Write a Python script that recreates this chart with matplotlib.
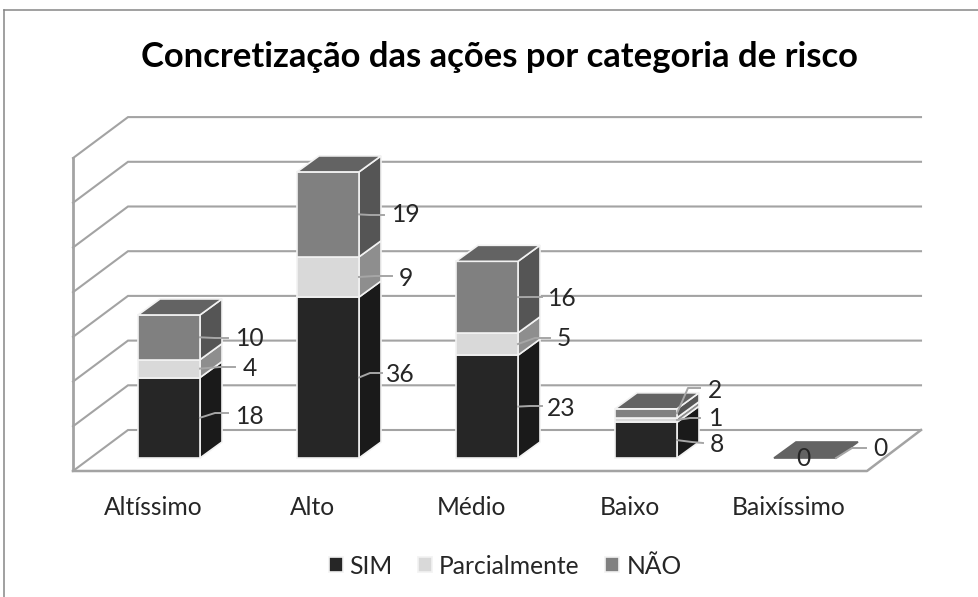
import matplotlib
matplotlib.use("Agg")
import matplotlib.pyplot as plt
from matplotlib.lines import Line2D
from matplotlib.patches import Polygon
from matplotlib.transforms import Affine2D

# ---- data ----
categories = ["Altíssimo", "Alto", "Médio", "Baixo", "Baixíssimo"]
sim = [18, 36, 23, 8, 0]
parcialmente = [4, 9, 5, 1, 0]
nao = [10, 19, 16, 2, 0]
series_names = ["SIM", "Parcialmente", "NÃO"]
wall_ticks = [0, 10, 20, 30, 40, 50, 60, 70]
title = "Concretização das ações por categoria de risco"

# ---- layout ----
W, H = 979, 597
PX_PER_CAT, X0_PX = 159.0, 169.0
PX_PER_UNIT, Y0_PX = 4.47, 458.0
FLOOR_PX = 471.0
BAR_W = 62 / PX_PER_CAT
DX, DY = 22 / PX_PER_CAT, 16 / PX_PER_UNIT
FS = 17.7

front = ["#262626", "#d9d9d9", "#808080"]
side = ["#1a1a1a", "#8e8e8e", "#555555"]
top_col = "#636363"
grid_col = "#a3a3a3"
text_col = "#262626"
plt.rcParams["font.family"] = ["Lato", "DejaVu Sans"]

fig = plt.figure(figsize=(W / 100, H / 100), dpi=100, facecolor="white")
ax = fig.add_axes([0, (H - FLOOR_PX) / H, 1, FLOOR_PX / H])
ax.set_xlim(-X0_PX / PX_PER_CAT, (W - X0_PX) / PX_PER_CAT)
ax.set_ylim((Y0_PX - FLOOR_PX) / PX_PER_UNIT, Y0_PX / PX_PER_UNIT)
for s in ax.spines.values():
    s.set_visible(False)
ax.set_yticks([])
ax.patch.set_alpha(0)

pixel = Affine2D().scale(1, -1).translate(0, H)
def to_x(p): return (p - X0_PX) / PX_PER_CAT
def to_y(p): return (Y0_PX - p) / PX_PER_UNIT

# outer chart frame
for xs, ys in (([4, 4], [10, H]), ([4, W], [10, 10])):
    fig.add_artist(Line2D(xs, ys, color="#868686", lw=1.1, transform=pixel))

# walls and floor
xfl, xbl, xbr, xfr = to_x(73), to_x(128), to_x(921), to_x(867)
base_front, base_back = to_y(FLOOR_PX), to_y(430)
for t in wall_ticks:
    ax.plot([xfl, xbl, xbr], [base_front + t, base_back + t, base_back + t],
            color=grid_col, lw=1.5, zorder=1, clip_on=False, solid_joinstyle="miter")
ax.plot([xfl, xfl], [base_front, base_front + wall_ticks[-1]], color=grid_col, lw=2.0, zorder=1)
ax.plot([xfl, xfr, xbr], [base_front, base_front, base_back], color=grid_col, lw=1.8, zorder=1, clip_on=False)

# stacked 3D columns
xpos = list(range(len(categories)))
stack = [sim, parcialmente, nao]
bottoms = [0] * len(categories)
handles = []
mids = []
for k, vals in enumerate(stack):
    for i, v in enumerate(vals):
        if v > 0:
            xr = xpos[i] + BAR_W / 2
            ax.add_patch(Polygon([(xr, bottoms[i]), (xr + DX, bottoms[i] + DY),
                                  (xr + DX, bottoms[i] + v + DY), (xr, bottoms[i] + v)],
                                 facecolor=side[k], edgecolor="#f2f2f2", lw=1.2, zorder=3))
    bars = ax.bar(xpos, vals, bottom=bottoms, width=BAR_W, color=front[k],
                  edgecolor="#f2f2f2", linewidth=1.2, zorder=4, label=series_names[k])
    handles.append(bars)
    mids.append([b + v / 2 for b, v in zip(bottoms, vals)])
    bottoms = [b + v for b, v in zip(bottoms, vals)]

for i, total in enumerate(bottoms):
    xl, xr = xpos[i] - BAR_W / 2, xpos[i] + BAR_W / 2
    ec = "#f2f2f2" if total > 0 else top_col
    ax.add_patch(Polygon([(xl, total), (xr, total), (xr + DX, total + DY), (xl + DX, total + DY)],
                         facecolor=top_col, edgecolor=ec, lw=1.2, zorder=5))

# data labels with leader lines: (series, category, label px, leader elbow px, leader end px)
LABELS = [
    (0, 0, (250, 417), (215, 413), (228, 413)),
    (1, 0, (250, 368), (220, 367), (235, 367)),
    (2, 0, (250, 338), (215, 338), (228, 338)),
    (0, 1, (400, 375), (370, 373), (382, 373)),
    (1, 1, (406, 279), (375, 276), (392, 276)),
    (2, 1, (406, 215), (370, 215), (384, 215)),
    (0, 2, (561, 408), (530, 406), (542, 406)),
    (1, 2, (564, 339), (535, 338), (550, 338)),
    (2, 2, (562, 299), (530, 297), (542, 297)),
    (0, 3, (717, 445), (692, 442), (703, 443)),
    (1, 3, (716, 419), (690, 418), (700, 418)),
    (2, 3, (715, 390), (688, 388), (700, 388)),
    (2, 4, (880, 449), (852, 448), (866, 448)),
]
series_vals = stack
for k, i, lab, elbow, end in LABELS:
    sx = xpos[i] + BAR_W / 2
    sy = mids[k][i]
    ax.plot([sx, to_x(elbow[0]), to_x(end[0])], [sy, to_y(elbow[1]), to_y(end[1])],
            color="#a6a6a6", lw=1.4, zorder=6, clip_on=False)
    ax.text(lab[0], lab[1], str(series_vals[k][i]), transform=pixel, ha="center", va="center",
            fontsize=FS, color=text_col, zorder=7)
ax.text(803, 459, str(sim[4]), transform=pixel, ha="center", va="center",
        fontsize=FS, color=text_col, zorder=7, clip_on=False)

# category labels
ax.set_xticks([x - 16 / PX_PER_CAT for x in xpos], categories, fontsize=FS, color=text_col)
ax.tick_params(axis="x", length=0, pad=18)

# title
fig.text(499.5 / W, 1 - 57 / H, title, ha="center", va="center", fontsize=24.9,
         fontweight="bold", color="black")

# legend
ax.legend(handles=handles, labels=series_names, ncol=3, frameon=False, fontsize=FS,
          labelcolor=text_col, handlelength=0.57, handleheight=0.57, handletextpad=0.28,
          columnspacing=1.04, loc="center", bbox_to_anchor=(505, 566),
          bbox_transform=pixel, borderpad=0, labelspacing=0)

fig.savefig("out.png", dpi=100)
